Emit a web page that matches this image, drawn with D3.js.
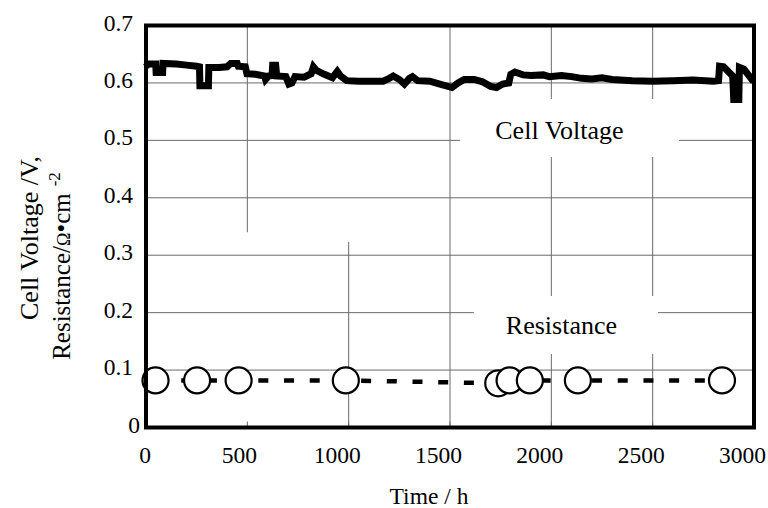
<!DOCTYPE html>
<html>
<head>
<meta charset="utf-8">
<script src="https://cdn.jsdelivr.net/npm/d3@7"></script>
<style>
  body { margin: 0; background: #fff; }
  text { font-family: "Liberation Serif", "Times New Roman", serif; fill: #000; }
</style>
</head>
<body>
<div id="chart"></div>
<script>
// Cell voltage trace (time in h, voltage in V)
const voltageTime = [0, 10, 48, 50, 82, 84, 150, 200, 250, 264, 266, 308, 310, 360, 400, 418, 450, 455, 490, 498,
    540, 585, 590, 605, 622, 625, 640, 645, 690, 705, 720, 735, 780, 815, 826, 840, 880, 920, 944, 960,
    990, 1050, 1100, 1170, 1200, 1220, 1250, 1275, 1300, 1315, 1340, 1400, 1450, 1510, 1540, 1570, 1620, 1660, 1700, 1730,
    1760, 1790, 1800, 1820, 1860, 1900, 1960, 1990, 2050, 2100, 2150, 2200, 2250, 2300, 2400, 2500, 2600, 2700, 2800, 2825,
    2830, 2850, 2895, 2900, 2925, 2928, 2950, 2990, 3005];
const voltageValue = [0.628, 0.633, 0.633, 0.618, 0.618, 0.634, 0.633, 0.631, 0.629, 0.628, 0.595, 0.595, 0.627, 0.627, 0.628, 0.634, 0.634, 0.629, 0.628, 0.616,
    0.615, 0.612, 0.606, 0.612, 0.613, 0.631, 0.631, 0.612, 0.611, 0.598, 0.600, 0.611, 0.610, 0.616, 0.628, 0.622, 0.615, 0.609, 0.620, 0.612,
    0.604, 0.603, 0.603, 0.603, 0.608, 0.612, 0.606, 0.598, 0.608, 0.611, 0.604, 0.603, 0.598, 0.592, 0.600, 0.606, 0.606, 0.602, 0.594, 0.592,
    0.598, 0.600, 0.615, 0.619, 0.614, 0.613, 0.614, 0.611, 0.613, 0.611, 0.608, 0.607, 0.609, 0.606, 0.604, 0.603, 0.604, 0.605, 0.603, 0.604,
    0.629, 0.628, 0.612, 0.571, 0.571, 0.627, 0.624, 0.606, 0.608];

// Resistance measurements (time in h, resistance in ohm cm^2)
const resistanceTime = [47, 252, 457, 986, 1738, 1794, 1894, 2131, 2842];
const resistanceValue = [0.082, 0.082, 0.082, 0.082, 0.077, 0.082, 0.082, 0.082, 0.082];

// Axis ticks
const xTicks = [0, 500, 1000, 1500, 2000, 2500, 3000];
const yTicks = [0, 0.1, 0.2, 0.3, 0.4, 0.5, 0.6, 0.7];

let svgWidth = 768;
let svgHeight = 508;

let svg = d3.select("#chart")
    .append("svg")
    .attr("width", svgWidth)
    .attr("height", svgHeight);

svg.append("rect")
    .attr("width", svgWidth)
    .attr("height", svgHeight)
    .attr("fill", "#fff");

// Scales
let xScale = d3.scaleLinear()
    .domain([0, 3000])
    .range([146, 754]);

let yScale = d3.scaleLinear()
    .domain([0, 0.7])
    .range([427.5, 25.5]);

let plot = svg.append("g");

// Gridlines (some vertical ones are only partly drawn in the original)
let partialGrid = { 500: [0.34, 0.7], 1000: [0, 0.323] };

plot.selectAll(".hgrid")
    .data(yTicks.slice(1, -1))
    .enter()
    .append("line")
    .attr("x1", xScale(0))
    .attr("x2", xScale(3000))
    .attr("y1", d => yScale(d))
    .attr("y2", d => yScale(d))
    .attr("stroke", "#6a6a6a")
    .attr("stroke-width", 1);

plot.selectAll(".vgrid")
    .data(xTicks.slice(1, -1))
    .enter()
    .append("line")
    .attr("x1", d => xScale(d))
    .attr("x2", d => xScale(d))
    .attr("y1", d => yScale(partialGrid[d] ? partialGrid[d][0] : 0))
    .attr("y2", d => yScale(partialGrid[d] ? partialGrid[d][1] : 0.7))
    .attr("stroke", "#6a6a6a")
    .attr("stroke-width", 1);

// Series labels sit on white boxes that hide the grid behind them
let labels = [
    { text: "Cell Voltage", x: 2040, y: 0.502, box: [1550, 2630, 0.572, 0.471] },
    { text: "Resistance", x: 2050, y: 0.162, box: [1618, 2526, 0.229, 0.128] }
];

labels.forEach(function (l) {
    plot.append("rect")
        .attr("x", xScale(l.box[0]))
        .attr("y", yScale(l.box[2]))
        .attr("width", xScale(l.box[1]) - xScale(l.box[0]))
        .attr("height", yScale(l.box[3]) - yScale(l.box[2]))
        .attr("fill", "#fff");
    plot.append("text")
        .attr("x", xScale(l.x))
        .attr("y", yScale(l.y))
        .attr("text-anchor", "middle")
        .attr("font-size", "26px")
        .text(l.text);
});

// Resistance dashed line
let resData = resistanceTime.map((t, i) => [t, resistanceValue[i]]);
let lineGen = d3.line()
    .x(d => xScale(d[0]))
    .y(d => yScale(d[1]));

plot.append("path")
    .datum(resData)
    .attr("d", lineGen)
    .attr("fill", "none")
    .attr("stroke", "#000")
    .attr("stroke-width", 4.5)
    .attr("stroke-dasharray", "10,15.7");

// Cell voltage trace
let voltData = voltageTime.map((t, i) => [t, voltageValue[i]]);
plot.append("path")
    .datum(voltData)
    .attr("d", lineGen)
    .attr("fill", "none")
    .attr("stroke", "#000")
    .attr("stroke-width", 7)
    .attr("stroke-linejoin", "miter");

// Resistance markers
plot.selectAll(".res")
    .data(resData)
    .enter()
    .append("circle")
    .attr("cx", d => xScale(d[0]))
    .attr("cy", d => yScale(d[1]))
    .attr("r", 13)
    .attr("fill", "#fff")
    .attr("stroke", "#000")
    .attr("stroke-width", 2.2);

// Inward ticks on the time axis
plot.selectAll(".xtick")
    .data(xTicks)
    .enter()
    .append("line")
    .attr("x1", d => xScale(d))
    .attr("x2", d => xScale(d))
    .attr("y1", yScale(0))
    .attr("y2", yScale(0) - 6)
    .attr("stroke", "#6a6a6a");

// Heavy frame
plot.append("rect")
    .attr("x", xScale(0))
    .attr("y", yScale(0.7))
    .attr("width", xScale(3000) - xScale(0))
    .attr("height", yScale(0) - yScale(0.7))
    .attr("fill", "none")
    .attr("stroke", "#000")
    .attr("stroke-width", 4);

// Tick labels
svg.selectAll(".xlabel")
    .data(xTicks)
    .enter()
    .append("text")
    .attr("x", d => xScale(d))
    .attr("dx", d => -(String(d).length - 1) * 3.5 - 1)
    .attr("y", 463)
    .attr("text-anchor", "middle")
    .attr("font-size", "23.5px")
    .text(d => d);

svg.selectAll(".ylabel")
    .data(yTicks)
    .enter()
    .append("text")
    .attr("x", 133)
    .attr("dx", d => d === 0 ? 7 : 0)
    .attr("y", d => yScale(d) + 5)
    .attr("text-anchor", "end")
    .attr("font-size", "23.5px")
    .text(d => d === 0 ? "0" : d3.format(".1f")(d));

// Axis titles
svg.append("text")
    .attr("x", 429)
    .attr("y", 504)
    .attr("text-anchor", "middle")
    .attr("font-size", "23.5px")
    .text("Time / h");

svg.append("text")
    .attr("transform", "translate(38, 238) rotate(-90)")
    .attr("text-anchor", "middle")
    .attr("font-size", "26px")
    .text("Cell Voltage /V,");

let yTitle2 = svg.append("text")
    .attr("transform", "translate(70, 266) rotate(-90)")
    .attr("text-anchor", "middle")
    .attr("font-size", "25px");
yTitle2.append("tspan").text("Resistance/");
yTitle2.append("tspan").attr("font-size", "18px").text("Ω");
yTitle2.append("tspan").text("•cm");
yTitle2.append("tspan").attr("font-size", "17px").attr("dx", 7).attr("dy", -10).text("-2");
</script>
</body>
</html>
